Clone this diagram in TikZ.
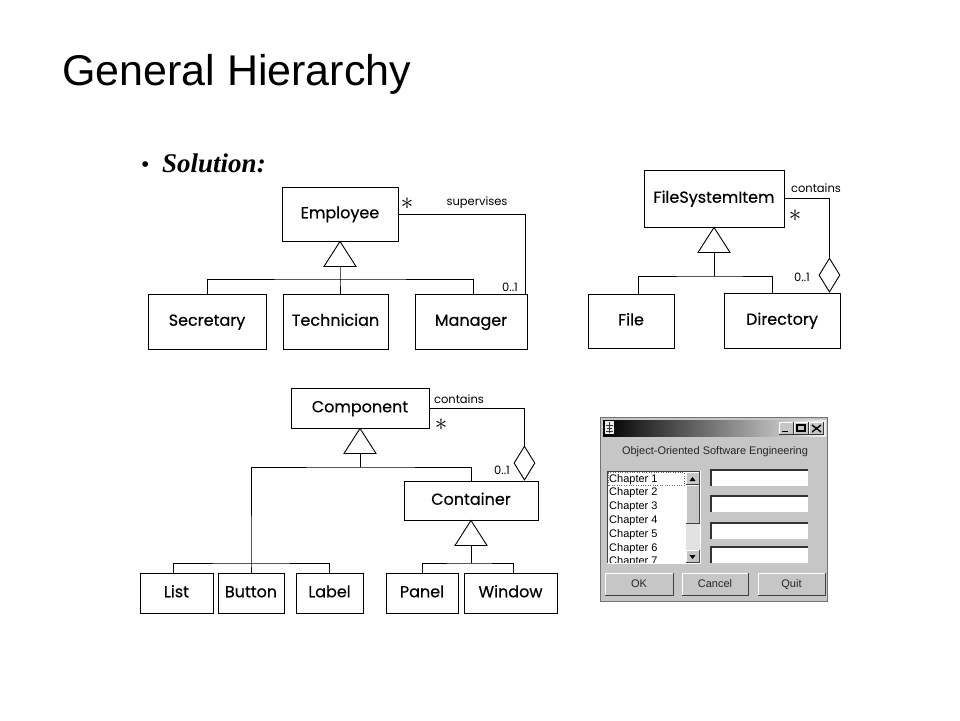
\documentclass[tikz,border=0pt]{standalone}
\usepackage{fontspec}
\setmainfont{Liberation Sans}
\newfontfamily\umlfont[FakeBold=0.4]{Poppins}
\newfontfamily\umlsmallfont{Poppins}
\newfontfamily\slidefont{Liberation Serif}
\usetikzlibrary{positioning,shapes.geometric}
\definecolor{winbg}{HTML}{C6C6C6}
\definecolor{wintrack}{HTML}{E2E2E2}

\begin{document}
\begin{tikzpicture}[x=1pt,y=-1pt,
classnode/.style={rectangle, draw=black, line width=0.9pt, inner sep=0pt, text height=11.5pt, text depth=3pt, font=\umlfont\fontsize{16}{19}\selectfont},
aggnode/.style={diamond, draw=black, line width=0.9pt, inner sep=0pt, minimum width=21pt, minimum height=34pt},
assoclabel/.style={font=\umlsmallfont\fontsize{11.5}{13}\selectfont, inner sep=0pt},
multlabel/.style={font=\fontsize{24}{26}\selectfont, inner sep=0pt},
winlabel/.style={font=\fontsize{11}{12}\selectfont, inner sep=0pt, text=black!85, text height=8pt, text depth=2pt},
gen/.pic={\draw[line width=0.9pt] (0,0) -- (-16,25) -- (16,25) -- cycle;
          \coordinate (-base) at (0,25);},
]
\useasboundingbox (0,0) rectangle (960,720);

%Heading
\node[anchor=base west, inner sep=0pt, font=\fontsize{43}{47}\selectfont] (title) at (62,85) {General Hierarchy};
\node[anchor=base west, inner sep=0pt, font=\slidefont\fontsize{24}{26}\selectfont] (bullet) at (141,172) {\textbullet};
\node[anchor=base west, inner sep=0pt, font=\slidefont\bfseries\itshape\fontsize{27}{30}\selectfont] (solution) at (162,172) {Solution:};

%Employee hierarchy
\node[classnode, minimum width=116pt, minimum height=54pt] (emp)  at (340,214)   {Employee};
\node[classnode, minimum width=118pt, minimum height=55pt] (sec)  at (207,321.5) {Secretary};
\node[classnode, minimum width=105pt, minimum height=55pt] (tech) at (335.5,321.5) {Technician};
\node[classnode, minimum width=112pt, minimum height=55pt] (mgr)  at (471,321.5) {Manager};
\pic (empgen) at (emp.south) {gen};
\coordinate (empbus) at (340,279);
\draw[line width=0.9pt] (empgen-base) -- (empbus) -- (tech.north -| empbus);
\draw[line width=0.9pt] (sec.north) |- (empbus) -| ([xshift=2pt]mgr.north);
\draw[line width=0.9pt] (emp.east) -| ([xshift=-2pt]mgr.north east);
\node[multlabel] (empstar) at (407,204) {$\ast$};
\node[assoclabel] (supervises) at (477,203) {supervises};
\node[assoclabel] (mgrmult) at (510,287) {0..1};

%File system hierarchy
\node[classnode, minimum width=140pt, minimum height=57pt] (fsi)  at (714,198.5) {FileSystemItem};
\node[classnode, minimum width=86pt, minimum height=54pt]  (file) at (631,321)   {File};
\node[classnode, minimum width=116pt, minimum height=55pt] (dir)  at (782,320.5) {Directory};
\pic (fsigen) at (fsi.south) {gen};
\coordinate (fsibus) at (714,276);
\draw[line width=0.9pt] (fsigen-base) -- (fsibus);
\draw[line width=0.9pt] ([xshift=7pt]file.north) |- (fsibus) -| ([xshift=-10pt]dir.north);
\node[aggnode, anchor=south] (dirdmd) at ([xshift=-11pt]dir.north east) {};
\draw[line width=0.9pt] (fsi.east) -| (dirdmd.north);
\node[assoclabel] (fsicontains) at (816,188) {contains};
\node[multlabel] (fsistar) at (795,216) {$\ast$};
\node[assoclabel] (dirmult) at (802,277) {0..1};

%Component hierarchy
\node[classnode, minimum width=138pt, minimum height=40pt] (comp)  at (360,408)   {Component};
\node[classnode, minimum width=134pt, minimum height=39pt] (cont)  at (471,500.5) {Container};
\node[classnode, minimum width=73pt, minimum height=40pt]  (list)  at (176.5,593) {List};
\node[classnode, minimum width=66pt, minimum height=40pt]  (btn)   at (251,593)   {Button};
\node[classnode, minimum width=67pt, minimum height=40pt]  (lbl)   at (329.5,593) {Label};
\node[classnode, minimum width=72pt, minimum height=40pt]  (panel) at (422,593)   {Panel};
\node[classnode, minimum width=93pt, minimum height=40pt]  (win)   at (510.5,593) {Window};
\pic (compgen) at (comp.south) {gen};
\pic (contgen) at (cont.south) {gen};
\coordinate (compbus) at (360,467);
\coordinate (leafbus) at (251,563);
\coordinate (contbus) at (471,563);
\draw[line width=0.9pt] (compgen-base) -- (compbus);
\draw[line width=0.9pt] (btn.north) -- (leafbus) |- (compbus) -| (cont.north);
\draw[line width=0.9pt] ([xshift=-3pt]list.north) |- (leafbus) -| (lbl.north);
\draw[line width=0.9pt] (contgen-base) -- (contbus);
\draw[line width=0.9pt] (panel.north) |- (contbus) -| ([xshift=2.5pt]win.north);
\node[aggnode, anchor=south] (contdmd) at ([xshift=-14pt]cont.north east) {};
\draw[line width=0.9pt] (comp.east) -| (contdmd.north);
\node[assoclabel] (compcontains) at (459,399) {contains};
\node[multlabel] (compstar) at (441,425) {$\ast$};
\node[assoclabel] (contmult) at (502,470) {0..1};

%Dialog screenshot
\fill[winbg] (600,417) rectangle (827,601);
\draw[black!55] (600,417) rectangle (827,601);
\shade[left color=black, right color=white!88!gray] (603,420) rectangle (826,436);
\fill[white!85!gray] (605,421) rectangle (614,434);
\draw[black!80, line width=0.6pt] (606,425) -- (613,425) (607,428) -- (612,428) (606,431) -- (613,431) (609.5,422) -- (609.5,433);
\foreach \bx/\bn in {779/min,794/max,809/close}{
  \fill[winbg] (\bx,422) rectangle ({\bx+14},434);
  \draw[black!80] (\bx,434) -- ({\bx+14},434) -- ({\bx+14},422);
  \draw[white] (\bx,434) -- (\bx,422) -- ({\bx+14},422);
}
\draw[line width=1.6pt] (782,431.5) -- (788,431.5);
\draw[line width=1.2pt] (797,425) rectangle (805,431);
\draw[line width=1.4pt] (812,425) -- (821,432) (812,432) -- (821,425);
\node[winlabel] (dlgtitle) at (715,451) {Object-Oriented Software Engineering};

\begin{scope}
\clip (607,471) rectangle (686,563);
\fill[white] (607,471) rectangle (686,563);
\foreach \i in {1,...,7}
  \node[winlabel, anchor=west, text=black] (chap\i) at (609,{479+13.8*(\i-1)}) {Chapter \i};
\draw[black!60, dotted] (608,472.5) rectangle (684,485.5);
\end{scope}
\fill[wintrack] (686,472) rectangle (700,562);
\foreach \sy in {472,485,550}{
  \fill[winbg] (686,\sy) rectangle (699,{\sy+12});
  \draw[white] (686,{\sy+12}) -- (686,\sy) -- (699,\sy);
  \draw[black!75] (686,{\sy+12}) -- (699,{\sy+12}) -- (699,\sy);
}
\fill[winbg] (686,485) rectangle (699,523);
\draw[white] (686,523) -- (686,485) -- (699,485);
\draw[black!75] (686,523) -- (699,523) -- (699,485);
\fill (689.5,481) -- (695.5,481) -- (692.5,477) -- cycle;
\fill (689.5,555) -- (695.5,555) -- (692.5,559) -- cycle;
\draw[black!75, line width=1pt] (607,563) -- (607,471) -- (700,471);
\draw[white] (607,563) -- (700,563) -- (700,471);

\foreach \ty in {470,496,523,547}{
  \fill[white] (711,\ty) rectangle (808,{\ty+16});
  \draw[black!80, line width=1.3pt] (711,{\ty+16}) -- (711,\ty) -- (808,\ty);
}

\foreach \bl/\br/\bt in {605/673/OK,682/748/Cancel,758/825/Quit}{
  \fill[winbg] (\bl,573) rectangle (\br,595);
  \draw[white] (\bl,595) -- (\bl,573) -- (\br,573);
  \draw[black!75, line width=1pt] (\bl,595) -- (\br,595) -- (\br,573);
  \node[winlabel] (button\bt) at ({(\bl+\br)/2},584) {\bt};
}
\end{tikzpicture}
\end{document}
